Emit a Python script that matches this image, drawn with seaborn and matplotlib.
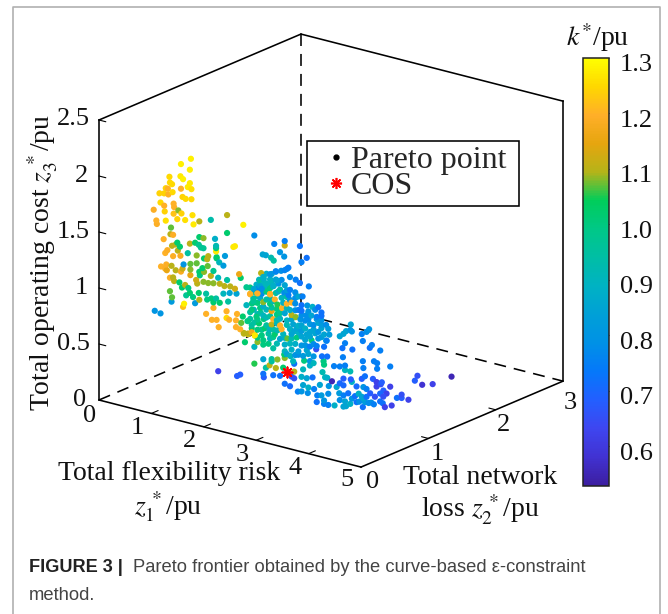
import numpy as np
import matplotlib
matplotlib.use("Agg")
import matplotlib.pyplot as plt
import seaborn as sns
from matplotlib.lines import Line2D
from matplotlib.transforms import ScaledTranslation
from matplotlib.cm import ScalarMappable
from matplotlib.colors import Normalize
from mpl_toolkits.mplot3d import proj3d

# ---------- data ----------
left_z2 = 0.4
left_z1 = [1.24,1.05,1.22,1.04,1.09,.83,1.22,.84,.88,1.18,
 1.25,.76,.80,1.05,.89,.64,.73,.81,1.08,1.14,
 1.25,.66,.73,.91,.92,.53,.74,1.00,.91,1.06,
 1.27,1.93,.58,.76,.98,1.13,1.40,1.62,.59,1.29,
 2.24,.86,1.93,2.45,.85,.90,1.40,1.48,.72,1.70,
 .98,2.83,3.03,1.22,1.32,1.39,.95,.88,1.03,1.43,
 1.72,1.48,1.72,2.05,2.08,3.03,3.32,.79,.99,1.72,
 .75,1.18,2.61,2.67,2.94,.90,1.04,1.35,1.57,1.55,
 1.49,1.73,1.73,1.89,3.02,3.45,2.77,2.82,3.35,1.23,
 1.35,1.10,1.78,1.23,1.56,1.86,.67,.77,.87,.78,
 .75,.95,1.08,1.05,1.46,1.67,1.49,1.40,3.10,3.03,
 2.86,2.75,2.16,2.58,1.23,.84,.90,1.41,1.62,1.76,
 1.93,2.19,3.13,3.24,3.32,3.49,.92,1.02,1.34,1.48,
 1.36,1.57,1.67,1.79,1.13,1.07,1.19,1.88,1.99,2.08,
 2.30,2.44,2.59,.84,1.39,1.53,1.15,.88,.87,1.32,
 1.11,1.09,.55,.66,1.53,1.67,1.92,2.12,1.64,1.73,
 1.92,1.97,2.10,1.77,2.20,2.10,2.18,2.25,2.33,2.40,
 2.46,2.23,1.22,1.28,1.40,1.55,1.63,1.72,1.86,1.98,
 2.11,1.95,1.79,1.67,2.30,2.37,2.51,2.75,2.43,2.40,
 2.49,2.32,2.56,2.62,2.68,2.88,2.81]
left_z3 = [2.20,2.13,2.10,2.02,2.00,1.99,1.98,1.94,1.93,1.94,
 1.93,1.88,1.88,1.91,1.86,1.82,1.83,1.83,1.84,1.83,
 1.84,1.74,1.72,1.76,1.73,1.66,1.67,1.71,1.67,1.69,
 1.70,1.78,1.57,1.59,1.63,1.64,1.66,1.70,1.54,1.62,
 1.73,1.54,1.62,1.66,1.48,1.48,1.52,1.52,1.42,1.54,
 1.42,1.63,1.68,1.44,1.46,1.45,1.40,1.38,1.39,1.43,
 1.48,1.43,1.46,1.51,1.52,1.64,1.67,1.33,1.35,1.43,
 1.30,1.35,1.51,1.51,1.57,1.29,1.31,1.35,1.37,1.34,
 1.34,1.38,1.37,1.41,1.54,1.58,1.50,1.48,1.53,1.26,
 1.28,1.24,1.34,1.21,1.28,1.32,1.17,1.20,1.20,1.15,
 1.16,1.17,1.20,1.17,1.25,1.25,1.22,1.21,1.45,1.42,
 1.39,1.35,1.28,1.34,1.16,1.09,1.10,1.18,1.20,1.20,
 1.20,1.25,1.37,1.36,1.34,1.33,1.07,1.07,1.13,1.13,
 1.10,1.13,1.14,1.15,1.06,1.03,1.04,1.14,1.15,1.14,
 1.18,1.18,1.20,.97,1.02,1.03,.97,.92,.88,.92,
 .89,.86,.76,.75,.85,.92,.92,.92,.81,.82,
 .86,.85,.86,.76,.85,.80,.79,.76,.77,.79,
 .77,.91,1.00,.97,.96,.98,1.00,1.01,1.07,1.09,
 1.10,1.01,.98,.97,1.02,1.13,1.15,1.17,1.07,.99,
 .94,.88,1.22,1.31,1.26,1.31,1.25]
left_k = [1.28,1.28,1.28,1.27,1.28,1.25,1.27,1.25,1.25,1.27,
 1.26,1.24,1.2,1.2,1.25,1.24,1.24,1.2,1.24,1.25,
 1.25,1.25,1.2,1.2,1.2,1.19,1.24,1.08,1.22,1.24,
 1.26,1.1,1.2,1.26,1.24,1.26,1.1,.93,1.19,1.27,
 1.28,1.07,1.02,.78,1.1,1.19,1.02,1.08,1.2,.88,
 1.02,.76,.75,1.1,1.02,.98,1.1,1.1,1.02,.97,
 .92,.97,1.0,1.27,1.27,1.12,.73,1.19,1.1,1.27,
 1.2,.95,.85,.85,.8,1.19,1.18,1.08,1.1,1.1,
 1.02,1.02,1.02,.82,.8,.72,.92,.95,.75,1.07,
 1.07,.8,.9,1.08,1.07,.82,1.2,1.19,1.1,1.15,
 1.19,1.1,1.12,1.18,1.02,.98,1.08,1.02,.75,.76,
 .76,.8,1.16,1.1,1.15,1.19,1.1,1.0,1.1,.9,
 .95,1.02,.78,.75,.72,.75,1.1,1.02,1.12,1.08,
 1.1,1.08,1.08,1.1,1.1,1.02,1.0,1.1,1.1,1.12,
 .98,.85,.78,1.07,1.02,.95,.97,1.07,.82,.82,
 1.28,1.22,.8,.8,1.2,1.2,1.2,1.2,1.2,1.2,
 1.25,1.2,1.2,1.2,1.07,1.2,1.2,1.1,1.1,1.17,
 1.27,1.02,1.02,1.0,1.1,1.0,1.0,.95,.9,.85,
 .85,.95,1.02,1.02,.9,1.2,1.2,1.2,.97,1.0,
 1.0,1.0,.85,.88,.9,.85,.88]

center_z2 = 1.0
center_z1 = [1.91,2.01,2.09,2.19,2.30,1.77,1.86,1.98,2.09,1.85,
 1.95,2.05,2.14,2.26,1.60,1.76,1.88,1.98,2.17,2.30,
 2.36,1.60,1.74,1.82,1.98,2.09,2.25,2.33,2.52,2.60,
 1.66,1.79,1.91,2.07,2.20,2.36,1.63,1.74,1.85,1.98,
 2.12,2.30,2.39,2.23,2.69,2.79,2.90,1.67,1.79,1.91,
 2.01,2.11,2.21,2.36,2.52,2.58,2.71,2.96,1.74,1.85,
 1.98,2.11,2.26,2.39,2.47,2.67,2.77,2.87,2.96,1.60,
 1.74,1.86,2.04,2.17,2.30,2.56,2.71,2.87,1.63,1.77,
 1.91,2.01,2.17,2.30,2.42,2.58,2.74,2.90,3.05,1.63,
 1.74,1.88,2.04,2.20,2.36,2.49,2.65,2.81,2.96,3.09,
 1.48,1.56,1.69,1.82,1.95,2.07,2.23,2.39,2.52,2.68,
 2.84,3.01,3.11,1.50,1.74,1.85,1.98,2.17,2.31,2.49,
 2.65,2.77,2.90,3.05,1.68,1.95,2.26,2.46,2.58,2.74,
 2.86,3.01,3.06,2.04,2.26,2.39,2.52,2.68,2.87,2.25,
 2.37,2.52,2.63,2.71,2.81,2.97,3.07,3.00,1.85,2.01,
 2.12,2.26,2.42,2.81,3.01,1.68,1.97,1.90,2.01,2.09,
 2.23,2.44,2.61,2.74,.99,1.35,1.41,1.85,1.86,2.04,
 2.17,2.44,2.44,2.39,2.58,2.68,2.79,2.98,3.03,3.07,
 3.16,2.26,2.36,2.61,2.71,2.82,2.93,2.51,2.58,2.70,
 3.10,3.20,3.31,3.37,3.41,3.41,3.51,3.36,3.41,3.55,
 3.31,3.38,3.43,3.52,3.51,3.54,3.31,3.38,3.52,3.54,
 3.38,3.25,2.88,2.87,2.96,3.01,3.09,3.01,3.09,3.21,
 3.30,3.31,3.38,3.41,3.43,3.51,3.54,3.60,3.68,3.75,
 3.63,3.73,3.79,3.76,3.82,3.82,3.79,3.86,3.75,3.75,
 3.76,3.87,3.82,3.73,4.08,4.14,3.98,3.96,4.08,4.13,
 4.17,4.30,4.40,4.49,4.49,4.62,3.91]
center_z3 = [1.10,1.11,1.14,1.16,1.19,1.03,1.05,1.06,1.07,1.00,
 1.00,1.01,1.04,1.04,.94,.95,.96,.98,.99,1.00,
 1.01,.88,.91,.91,.93,.95,.97,.96,.97,.98,
 .85,.87,.87,.89,.92,.92,.80,.82,.84,.84,
 .85,.88,.90,.88,.91,.91,.92,.75,.78,.78,
 .78,.81,.83,.83,.85,.85,.86,.88,.72,.72,
 .73,.76,.79,.79,.78,.82,.83,.83,.85,.66,
 .67,.69,.71,.73,.73,.77,.79,.81,.61,.64,
 .64,.66,.67,.69,.71,.72,.75,.78,.78,.58,
 .58,.61,.62,.64,.66,.68,.70,.71,.74,.75,
 .52,.52,.52,.54,.57,.58,.60,.62,.65,.65,
 .68,.69,.70,.44,.47,.50,.53,.55,.57,.60,
 .60,.61,.64,.64,.42,.48,.51,.54,.54,.55,
 .54,.58,.64,.45,.45,.48,.48,.51,.57,.42,
 .42,.45,.41,.48,.47,.49,.50,.45,.33,.35,
 .36,.39,.38,.41,.42,.27,.29,.26,.33,.28,
 .30,.36,.33,.42,.12,.12,.14,.20,.17,.21,
 .22,.29,.23,.24,.26,.26,.28,.35,.31,.31,
 .29,.16,.15,.19,.18,.18,.23,.12,.13,.13,
 .24,.43,.44,.53,.46,.42,.42,.61,.66,.62,
 .71,.74,.77,.84,.79,.78,.29,.34,.35,.33,
 .28,.25,.13,.07,.14,.10,.17,.07,.07,.08,
 .20,.14,.19,.14,.10,.13,.18,.21,.17,.13,
 .30,.38,.41,.31,.30,.23,.18,.18,.72,.54,
 .48,.84,.81,.78,.29,.27,.25,.18,.22,.21,
 .18,.21,.29,.33,.30,.30,.19]
center_k = [.88,.85,.78,.78,.78,.9,.88,.88,.85,.9,
 .92,.88,.8,.85,1.0,.75,.92,1.0,.95,.82,
 .75,1.2,1.2,.78,1.18,.95,.78,.75,.85,.75,
 .95,.88,.95,1.2,.9,.8,1.0,1.0,1.08,1.0,
 1.05,1.2,1.2,.88,.8,.88,.72,.9,1.0,.9,
 1.15,1.0,1.2,.88,.75,.72,.8,.72,.92,.9,
 .95,1.0,.85,1.1,1.08,.78,.85,.75,.72,.95,
 .98,1.0,1.2,.9,.9,.8,.78,.82,.95,1.02,
 .95,1.1,1.2,.92,.85,.85,.82,.85,.78,1.02,
 1.0,1.02,.95,1.2,.88,.85,.88,.85,.85,.82,
 1.1,1.25,1.27,1.0,.95,1.02,.9,.85,.88,.85,
 .85,.85,.82,1.02,1.08,1.0,.9,.85,1.07,1.0,
 .85,1.0,.8,.85,.9,1.0,.88,.88,.8,.75,
 .65,.72,.75,.95,.9,.88,.82,.85,.75,1.02,
 .9,.78,1.0,.85,.8,.72,.72,1.0,.85,.95,
 1.08,1.08,.9,.9,1.0,1.05,1.1,.95,.95,1.1,
 1.02,.72,.9,.8,.62,.68,.68,.72,.68,.72,
 .72,1.1,.65,.65,.88,.85,.72,.92,.9,.88,
 .55,.72,.7,.85,.88,.75,.85,.75,.8,.78,
 .8,.75,.75,.75,.75,.9,.92,.72,.75,.72,
 .85,.85,.85,.85,.8,.8,.7,.68,.68,.88,
 .7,.85,.75,.72,.82,.8,.78,.75,.75,.88,
 .82,.78,.75,.85,.85,.88,.8,.72,.78,.72,
 .7,.68,.72,.8,.75,.72,.82,.78,.75,.75,
 .75,.8,.78,.75,.7,.65,.65,.75,.72,.72,
 .62,.62,.72,.65,.68,.62,.78]

dense_z1 = [1.80,2.01,2.20,1.72,1.69,1.91,2.14,2.46,1.74,1.98,
 2.30,2.46,1.69,2.04,2.46,2.58,1.85,2.01,2.30,2.46,
 2.84,1.60,1.80,2.17,2.58,1.91,2.11,2.39,2.65,2.96,
 1.69,2.11,2.52,2.81,2.96,1.82,1.97,2.12,2.44,2.58,
 2.74,2.90,1.74,2.04,2.26,2.39,2.58,2.74,2.96,1.85,
 2.11,2.36,2.65,2.81,2.30,2.46,2.61,2.74,3.63,3.38,
 3.73,3.47,3.89,3.67,3.76]
dense_z3 = [1.02,1.04,1.08,.98,.91,.94,.97,1.00,.88,.89,
 .94,.95,.82,.87,.90,.90,.80,.81,.84,.84,
 .89,.72,.74,.78,.81,.71,.71,.75,.77,.81,
 .64,.68,.71,.75,.77,.59,.61,.62,.65,.67,
 .68,.70,.51,.55,.57,.58,.62,.64,.66,.46,
 .50,.53,.55,.58,.43,.44,.45,.38,.16,.09,
 .22,.22,.27,.24,.21]
dense_k = [.95,.9,.78,.88,.95,1.0,.88,.78,.95,.92,
 .95,.78,1.02,.92,.78,.72,.88,.95,.9,.8,
 .78,.95,.95,.98,.78,.92,.92,.85,.78,.8,
 .95,.9,.88,.78,.82,.98,.9,.92,.85,.82,
 .85,.8,1.0,.98,.88,.92,.85,.85,.82,1.0,
 .92,.9,.8,.78,.85,.8,.82,.88,.72,.85,
 .85,.72,.68,.88,.85]

far_z2 = 1.5
far_z1 = [3.28,3.24,3.44,3.32,3.38,3.38,3.63,3.30,3.37,3.47,
 3.37,3.45,3.63,3.50,3.56,4.15,4.10,4.24,4.44,4.80]
far_z3 = [.50,.47,.47,.36,.35,.30,.35,.20,.18,.19,
 .14,.17,.17,.12,.10,.33,.28,.26,.29,.40]
far_k = [.75,.72,.75,.75,.75,.75,.75,.68,.62,.68,
 .62,.65,.62,.68,.62,.65,.68,.58,.62,.55]

cos_z1, cos_z2, cos_z3 = [2.30], [1.0], [0.27]

z1_ticks = [0, 1, 2, 3, 4, 5]
z2_ticks = [0, 1, 2, 3]
z3_ticks = [0, 0.5, 1, 1.5, 2, 2.5]
k_ticks = [0.6, 0.7, 0.8, 0.9, 1.0, 1.1, 1.2, 1.3]
k_palette = ["#3c1ea0", "#4132d2", "#3e46f0", "#235fff", "#0578fa", "#0091e6",
             "#00a0d7", "#00b2c3", "#00bea5", "#00c887", "#00cd5a", "#b4b419",
             "#e6a50f", "#ffaf28", "#ffd700", "#ffff00"]

n = min(len(left_z1), len(left_z3), len(left_k))
m = min(len(center_z1), len(center_z3), len(center_k))
d = min(len(dense_z1), len(dense_z3), len(dense_k))
z1 = np.array(left_z1[:n] + center_z1[:m] + dense_z1[:d] + far_z1)
z3 = np.array(left_z3[:n] + center_z3[:m] + dense_z3[:d] + far_z3)
k = np.array(left_k[:n] + center_k[:m] + dense_k[:d] + far_k)
z2 = np.concatenate([np.full(n, left_z2), np.full(m + d, center_z2), np.full(len(far_z1), far_z2)])

# ---------- style ----------
sns.set_theme(style="white")
plt.rcParams["font.family"] = ["Liberation Serif", "DejaVu Serif"]
plt.rcParams["mathtext.fontset"] = "stix"
W, H = 668, 614
fig = plt.figure(figsize=(W / 100, H / 100), dpi=100, facecolor="white")
cmap = sns.blend_palette(k_palette, n_colors=256, as_cmap=True)
norm = Normalize(0.528, 1.3)

def fx(x): return x / W
def fy(y): return 1 - y / H

# ---------- 3D axes ----------
S = 600.0
ax = fig.add_axes([0, 0, S / W, S / H], projection="3d", proj_type="ortho")
ax.computed_zorder = False
ax.view_init(elev=19.27, azim=-52.2)
ax.set_xlim(0, 5, view_margin=0)
ax.set_ylim(0, 3, view_margin=0)
ax.set_zlim(0, 2.5, view_margin=0)
ax.set_box_aspect((1.118, 1.111, 1.0))
ax.set_axis_off()
ax.patch.set_alpha(0)

def project(p):
    xs, ys, _ = proj3d.proj_transform(p[0], p[1], p[2], ax.get_proj())
    return ax.transData.transform((xs, ys))

fig.canvas.draw()
a0, c0 = project((0, 0, 0)), project((5, 3, 0))
S *= (563 - 99) / (c0[0] - a0[0])
ax.set_position([0, 0, S / W, S / H])
fig.canvas.draw()
a0 = project((0, 0, 0))
ax.set_position([(99 - a0[0]) / W, ((H - 400) - a0[1]) / H, S / W, S / H])
fig.canvas.draw()

X, Y, Z = z1_ticks[-1], z2_ticks[-1], z3_ticks[-1]
solid = dict(color="black", lw=1.15, solid_capstyle="projecting", zorder=1)
dashed = dict(color="black", lw=1.15, dashes=(7.5, 5), zorder=1)
for (p, q) in [((0, 0, 0), (0, 0, Z)), ((0, 0, Z), (0, Y, Z)), ((0, Y, Z), (X, Y, Z)),
               ((X, Y, Z), (X, Y, 0)), ((0, 0, 0), (X, 0, 0)), ((X, 0, 0), (X, Y, 0))]:
    ax.plot(*zip(p, q), **solid)
for (p, q) in [((0, Y, Z), (0, Y, 0)), ((0, 0, 0), (0, Y, 0)), ((0, Y, 0), (X, Y, 0))]:
    ax.plot(*zip(p, q), **dashed)
for v in z1_ticks[1:-1]:
    ax.plot([v, v], [0, 0.1], [0, 0], color="black", lw=0.8, zorder=1)
for v in z2_ticks[1:-1]:
    ax.plot([X, X - 0.13], [v, v], [0, 0], color="black", lw=0.8, zorder=1)
for v in z3_ticks[1:]:
    ax.plot([0, 0.13], [0, 0], [v, v], color="black", lw=0.8, zorder=1)

ax.scatter(z1, z2, z3, c=k, cmap=cmap, norm=norm, s=20, linewidths=0, depthshade=False, zorder=2)
ax.scatter(cos_z1, cos_z2, cos_z3, c="red", marker=(8, 2, 0), s=55, linewidths=1.3,
           depthshade=False, zorder=3)

# ---------- tick labels ----------
tick_fs = 19
def T(x, y, s, **kw):
    kw.setdefault("fontsize", tick_fs)
    kw.setdefault("color", "#111111")
    fig.text(fx(x), fy(y), s, ha="center", va="center", **kw)

for v, (x, y) in zip(z3_ticks, [(80, 400), (73, 344), (81, 288), (73, 232), (81, 176), (73, 119)]):
    T(x, y, f"{v:g}")
for v, (x, y) in zip(z1_ticks, [(90, 416), (137, 428), (189, 441), (242, 455), (295, 468), (347, 480)]):
    T(x, y, f"{v:g}")
for v, (x, y) in zip(z2_ticks, [(373, 482), (437, 454), (504, 425), (570, 403)]):
    T(x, y, f"{v:g}")

label_fs = 20
T(169, 473, "Total flexibility risk", fontsize=label_fs)
T(168, 507, r"$z_1^{\,*}$/pu", fontsize=label_fs)
T(480, 477, "Total network", fontsize=label_fs)
T(480, 510, r"loss $z_2^{\,*}$/pu", fontsize=label_fs)
T(43, 262, r"Total operating cost $z_3^{\,*}$/pu", fontsize=label_fs, rotation=90)
T(598, 38, r"$k^{*}$/pu", fontsize=label_fs)

# ---------- colorbar ----------
cax = fig.add_axes([fx(583), fy(486), 26 / W, (486 - 57.5) / H])
cbar = fig.colorbar(ScalarMappable(norm=norm, cmap=cmap), cax=cax)
cbar.set_ticks(k_ticks)
cbar.set_ticklabels([f"{v:.1f}" for v in k_ticks])
cbar.outline.set_edgecolor("#222222")
cbar.outline.set_linewidth(1.1)
cbar.ax.tick_params(axis="y", direction="in", length=4, width=0.8, color="#222222",
                    labelsize=tick_fs, pad=8, right=True, labelcolor="#111111")
shift = ScaledTranslation(0, -5 / 100, fig.dpi_scale_trans)
for lab in cbar.ax.get_yticklabels():
    lab.set_transform(lab.get_transform() + shift)

# ---------- legend ----------
handles = [Line2D([], [], ls="none", marker="o", color="black", ms=3.5),
           Line2D([], [], ls="none", marker=(8, 2, 0), color="red", ms=8, mew=1.2)]
leg = fig.legend(handles, ["Pareto point", "COS"], loc="center left",
                 bbox_to_anchor=(fx(307), fy(206), 212 / W, 65 / H), mode="expand",
                 fontsize=23, frameon=True, fancybox=False, edgecolor="black", framealpha=1,
                 labelspacing=-0.1, handlelength=1.5, handletextpad=-0.28, borderpad=0.15,
                 borderaxespad=0, columnspacing=0)
leg.get_frame().set_linewidth(1.15)

# ---------- caption and frame ----------
sans = ["Liberation Sans", "DejaVu Sans"]
fig.text(fx(29), fy(568), "FIGURE 3 |", family=sans, weight="bold", fontsize=13.1,
         color="#222222", va="center")
fig.text(fx(133), fy(568), "Pareto frontier obtained by the curve-based ε-constraint",
         family=sans, fontsize=13.25, color="#444444", va="center")
fig.text(fx(29), fy(595), "method.", family=sans, fontsize=13.25, color="#444444", va="center")
frame = dict(color="#b0b0b0", lw=1.2, transform=fig.transFigure)
fig.add_artist(Line2D([fx(13), fx(13), fx(660), fx(660)], [0, fy(6.5), fy(6.5), 0], **frame))

fig.savefig("out.png", dpi=100)
